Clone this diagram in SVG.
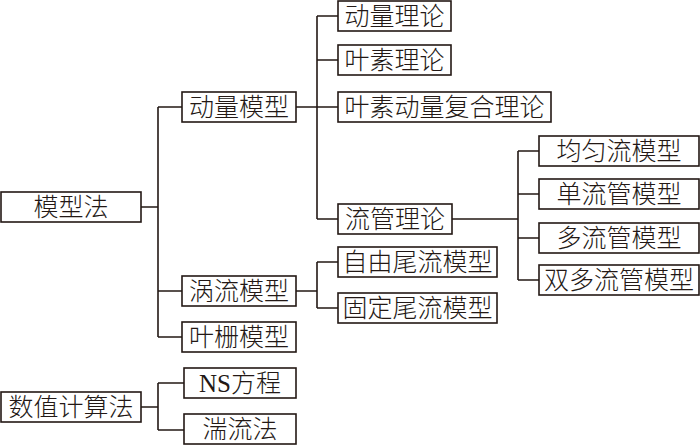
<svg xmlns="http://www.w3.org/2000/svg" width="700" height="446" viewBox="0 0 700 446">
<style>
rect{fill:#fff;stroke:#231815;stroke-width:1.6}
text{font-family:"Liberation Serif","Noto Sans CJK SC",serif;font-size:25px;font-weight:300;fill:#231815;text-anchor:middle}
.c path{fill:none;stroke:#231815;stroke-width:1.6}
</style>
<rect x="0" y="0" width="700" height="446" style="fill:#fff;stroke:none"/>
<g class="c" id="connectors">
<path d="M141 207H158M158 107V337M158 107H182M158 291H182M158 337H182"/>
<path d="M296 107H317M317 16V219M317 16H338M317 60H338M317 107H338M317 219H338"/>
<path d="M452 219H518M518 151V280M518 151H539M518 194H539M518 238H539M518 280H539"/>
<path d="M296 291H317M317 262V308M317 262H338M317 308H338"/>
<path d="M141 407H158M158 383V430M158 383H184M158 430H184"/>
</g>
<g id="n_mxf"><rect x="1" y="192" width="140" height="30"/><text x="71" y="216">模型法</text></g>
<g id="n_dlmx"><rect x="182" y="92" width="114" height="30"/><text x="239" y="116">动量模型</text></g>
<g id="n_wlmx"><rect x="182" y="276" width="114" height="30"/><text x="239" y="300">涡流模型</text></g>
<g id="n_ysmx"><rect x="182" y="322" width="114" height="30"/><text x="239" y="346">叶栅模型</text></g>
<g id="n_dlll"><rect x="338" y="1" width="113" height="30"/><text x="394.5" y="25">动量理论</text></g>
<g id="n_ysll"><rect x="338" y="45" width="113" height="30"/><text x="394.5" y="69">叶素理论</text></g>
<g id="n_fhll"><rect x="338" y="92" width="213" height="30"/><text x="444.5" y="116">叶素动量复合理论</text></g>
<g id="n_lgll"><rect x="338" y="204" width="114" height="30"/><text x="395" y="228">流管理论</text></g>
<g id="n_zywl"><rect x="338" y="247" width="159" height="30"/><text x="417.5" y="271">自由尾流模型</text></g>
<g id="n_gdwl"><rect x="338" y="293" width="159" height="30"/><text x="417.5" y="317">固定尾流模型</text></g>
<g id="n_jyl"><rect x="539" y="136" width="160" height="30"/><text x="619" y="160">均匀流模型</text></g>
<g id="n_dlg"><rect x="539" y="179" width="160" height="30"/><text x="619" y="203">单流管模型</text></g>
<g id="n_dlg2"><rect x="539" y="223" width="160" height="30"/><text x="619" y="247">多流管模型</text></g>
<g id="n_sdlg"><rect x="539" y="265" width="160" height="30"/><text x="619" y="289">双多流管模型</text></g>
<g id="n_szjs"><rect x="1" y="392" width="140" height="30"/><text x="71" y="416">数值计算法</text></g>
<g id="n_ns"><rect x="184" y="368" width="112" height="30"/><text x="240" y="392">NS方程</text></g>
<g id="n_tl"><rect x="184" y="414" width="112" height="30"/><text x="240" y="438">湍流法</text></g>
</svg>
